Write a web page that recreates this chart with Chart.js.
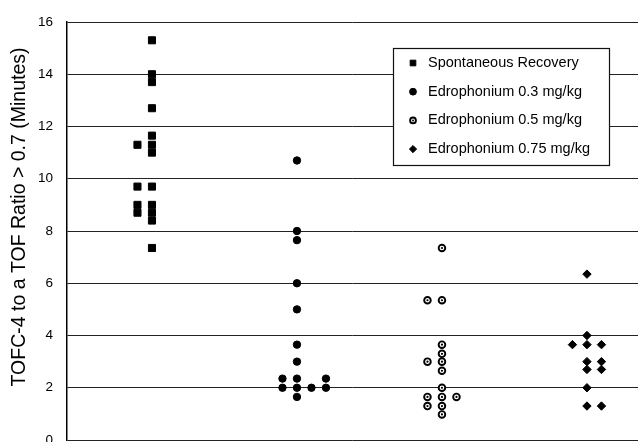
<!DOCTYPE html>
<html>
<head>
<meta charset="utf-8">
<script src="https://cdn.jsdelivr.net/npm/chart.js@4.4.1/dist/chart.umd.min.js"></script>
<style>
  html, body { margin: 0; padding: 0; background: #fff; overflow: hidden; }
  canvas { display: block; }
</style>
</head>
<body>
<canvas id="chart" width="638" height="442"></canvas>
<script>
// ---- data ----
const groups = ['Spontaneous Recovery', 'Edrophonium 0.3 mg/kg', 'Edrophonium 0.5 mg/kg', 'Edrophonium 0.75 mg/kg'];
const yTicks = [0, 2, 4, 6, 8, 10, 12, 14, 16];
const yTitle = 'TOFC-4 to a TOF Ratio > 0.7 (Minutes)';

// minutes; "col" = which jitter column the point sits in (0 = centre, -1 left, 1 right, 2 far right)
const spontY   = [15.3, 14.0, 13.7, 12.7, 11.65, 11.3, 11.0, 9.7, 9.0, 8.7, 8.4, 7.35, 11.3, 9.7, 9.0, 8.7];
const spontCol = [0, 0, 0, 0, 0, 0, 0, 0, 0, 0, 0, 0, -1, -1, -1, -1];

const edro03Y   = [10.7, 8.0, 7.65, 6.0, 5.0, 3.65, 3.0, 2.35, 2.0, 1.65, 2.35, 2.0, 2.0, 2.35, 2.0];
const edro03Col = [0, 0, 0, 0, 0, 0, 0, 0, 0, 0, -1, -1, 1, 2, 2];

const edro05Y   = [7.35, 5.35, 3.65, 3.3, 3.0, 2.65, 2.0, 1.65, 1.3, 0.98, 5.35, 3.0, 1.65, 1.3, 1.65];
const edro05Col = [0, 0, 0, 0, 0, 0, 0, 0, 0, 0, -1, -1, -1, -1, 1];

const edro075Y   = [6.35, 4.0, 3.65, 3.0, 2.7, 2.0, 1.3, 3.65, 3.65, 3.0, 2.7, 1.3];
const edro075Col = [0, 0, 0, 0, 0, 0, 0, -1, 1, 1, 1, 1];

// ---- build points ----
const JITTER = 0.1;
function pts(groupNo, ys, cols) {
    return ys.map((y, i) => ({ x: groupNo + cols[i] * JITTER, y: y }));
}

const seriesData = [
    pts(1, spontY, spontCol),
    pts(2, edro03Y, edro03Col),
    pts(3, edro05Y, edro05Col),
    pts(4, edro075Y, edro075Col)
];

// marker look per group (open circle = ring + centre dot)
const styles = [
    { pointStyle: 'rect', pointRadius: 5, bg: '#000', bw: 1, legendRadius: 4 },
    { pointStyle: 'circle', pointRadius: 3.7, bg: '#000', bw: 1, legendRadius: 3.4 },
    { pointStyle: 'circle', pointRadius: 3.3, bg: '#fff', bw: 1.9, legendRadius: 2.9, dot: true },
    { pointStyle: 'rectRot', pointRadius: 4.2, bg: '#000', bw: 1, legendRadius: 3.6 }
];

const datasets = groups.map((g, i) => ({
    label: g,
    data: seriesData[i],
    pointStyle: styles[i].pointStyle,
    pointRadius: styles[i].pointRadius,
    pointHoverRadius: styles[i].pointRadius,
    backgroundColor: styles[i].bg,
    borderColor: '#000',
    borderWidth: styles[i].bw
}));
// centre dots of the open circles, drawn on top
datasets.push({
    label: '',
    data: seriesData[2],
    order: -1,
    pointStyle: 'circle',
    pointRadius: 1.1,
    pointHoverRadius: 1.1,
    backgroundColor: '#000',
    borderColor: '#000',
    borderWidth: 0
});

// ---- legend box + rotated axis title ----
const boxLegend = {
    id: 'boxLegend',
    afterDraw(chart) {
        const ctx = chart.ctx;
        const a = chart.chartArea;
        const bx = a.left + 326, by = a.top + 26, bw = 216, bh = 117;
        ctx.save();
        ctx.fillStyle = '#fff';
        ctx.fillRect(bx, by, bw, bh);
        ctx.strokeStyle = '#111';
        ctx.lineWidth = 1.2;
        ctx.strokeRect(bx + 0.5, by + 0.5, bw, bh);
        ctx.font = '14.5px "Liberation Sans", Arial, sans-serif';
        ctx.textBaseline = 'middle';
        groups.forEach((label, i) => {
            const cy = by + 15 + i * 28.7;
            const st = styles[i];
            ctx.save();
            ctx.fillStyle = st.bg;
            ctx.strokeStyle = '#000';
            ctx.lineWidth = st.bw;
            Chart.helpers.drawPoint(ctx, {
                pointStyle: st.pointStyle,
                radius: st.legendRadius,
                rotation: 0,
                borderWidth: st.bw
            }, bx + 20, cy);
            if (st.dot) {
                ctx.fillStyle = '#000';
                ctx.beginPath();
                ctx.arc(bx + 20, cy, 1, 0, Math.PI * 2);
                ctx.fill();
            }
            ctx.restore();
            ctx.fillStyle = '#000';
            ctx.fillText(label, bx + 35, cy);
        });

        // y title, sits a bit above the axis centre as in the figure
        ctx.translate(20, 217);
        ctx.rotate(-Math.PI / 2);
        ctx.textAlign = 'center';
        ctx.textBaseline = 'middle';
        ctx.font = '19.5px "Liberation Sans", Arial, sans-serif';
        ctx.fillStyle = '#000';
        ctx.fillText(yTitle, 0, 0);
        ctx.restore();
    }
};

new Chart(document.getElementById('chart'), {
    type: 'scatter',
    data: { datasets: datasets },
    options: {
        responsive: false,
        animation: false,
        layout: { autoPadding: false, padding: { top: 22, right: 0, bottom: 2, left: 0 } },
        plugins: { legend: { display: false }, tooltip: { enabled: false } },
        scales: {
            x: {
                type: 'linear',
                display: false,
                min: 0.414,
                max: 4.352
            },
            y: {
                min: 0,
                max: 16,
                afterBuildTicks: (axis) => { axis.ticks = yTicks.map(v => ({ value: v })); },
                afterFit: (axis) => {
                    axis.width = 67;
                    axis.paddingTop = 0;
                    axis.paddingBottom = 0;
                },
                border: { display: true, color: '#000', width: 1.5 },
                grid: { color: '#222', lineWidth: 1, drawTicks: false },
                ticks: {
                    padding: 14,
                    color: '#000',
                    font: { family: '"Liberation Sans", Arial, sans-serif', size: 13.5 }
                }
            }
        }
    },
    plugins: [boxLegend]
});
</script>
</body>
</html>
